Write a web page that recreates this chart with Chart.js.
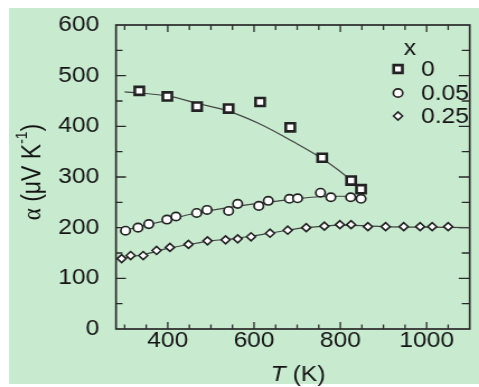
<!DOCTYPE html>
<html lang="en">
<head>
<meta charset="UTF-8" />
<title>Seebeck coefficient vs T</title>
<style>
  html, body { margin: 0; padding: 0; background: #fff; }
  .panel { position: absolute; left: 9px; top: 8px; width: 470px; height: 376px; background: #c8ebd0; }
  .stretch { position: absolute; left: 0; top: 0; width: 428px; height: 387px; transform: scaleX(1.1192); transform-origin: 0 0; }
</style>
</head>
<body>
<div class="panel"></div>
<div class="stretch"><canvas id="seebeck" width="428" height="387"></canvas></div>
<script src="https://cdn.jsdelivr.net/npm/chart.js"></script>
<script>
// measured points, x = 0
const T_X0 = [334, 399, 468, 541, 614, 684, 758, 825, 848];
const A_X0 = [470, 459, 439, 435, 448, 398, 338, 293, 276];
// x = 0.05
const T_X05 = [302, 331, 356, 398, 419, 467, 491, 541, 562, 611, 633, 682, 701, 754, 778, 824, 848];
const A_X05 = [194, 200, 207, 216, 222, 229, 235, 233, 247, 243, 253, 257, 258, 269, 260, 260, 257];
// x = 0.25
const T_X25 = [293, 314, 343, 374, 405, 448, 492, 534, 562, 593, 637, 678, 721, 763, 799, 825, 864, 905, 947, 985, 1013, 1050];
const A_X25 = [139, 145, 145, 155, 161, 167, 174, 176, 178, 182, 189, 195, 200, 203, 206, 206, 202, 202, 202, 202, 202, 202];

// guide curves
const FIT_T_X0 = [300, 400, 470, 540, 610, 690, 760, 825, 850];
const FIT_A_X0 = [468, 460, 445, 430, 406, 370, 335, 293, 270];
const FIT_T_X05 = [290, 350, 400, 450, 500, 550, 600, 650, 700, 750, 800, 850];
const FIT_A_X05 = [193, 205, 215, 226, 234, 241, 247, 252, 257, 261, 262, 261];
const FIT_T_X25 = [285, 350, 400, 450, 500, 550, 600, 650, 700, 750, 800, 850, 900, 1000, 1100];
const FIT_A_X25 = [138, 148, 159, 167, 174, 178, 184, 191, 198, 202, 205, 204, 202, 201, 200];

const X_TICKS = [400, 600, 800, 1000];
const Y_TICKS = [0, 100, 200, 300, 400, 500, 600];
const LEGEND_LABELS = ["0", "0.05", "0.25"];

const S = 479 / 428; // horizontal stretch of the original figure
const FONT = "'Liberation Sans', Arial, Helvetica, sans-serif";
const INK = "#141414";

const pts = (xs, ys) => xs.map((v, i) => ({ x: v, y: ys[i] }));

const markerBase = {
  showLine: false,
  borderColor: "#222",
  backgroundColor: "#fff",
};

function drawMarker(ctx, style, x, y) {
  ctx.save();
  ctx.fillStyle = "#fff";
  ctx.strokeStyle = "#222";
  ctx.beginPath();
  if (style === "rect") {
    ctx.lineWidth = 2.6;
    const h = 5.5 * Math.SQRT1_2;
    ctx.rect(x - h, y - h, 2 * h, 2 * h);
  } else if (style === "circle") {
    ctx.lineWidth = 1.7;
    ctx.arc(x, y, 4.2, 0, Math.PI * 2);
  } else {
    ctx.lineWidth = 1.6;
    const r = 4;
    ctx.moveTo(x - r, y);
    ctx.lineTo(x, y - r);
    ctx.lineTo(x + r, y);
    ctx.lineTo(x, y + r);
    ctx.closePath();
  }
  ctx.fill();
  ctx.stroke();
  ctx.restore();
}

const frame = {
  id: "frame",
  beforeDatasetsDraw(chart) {
    const ctx = chart.ctx;
    const a = chart.chartArea;
    const xs = chart.scales.x;
    const ys = chart.scales.y;
    ctx.save();
    ctx.strokeStyle = "#2a2a2a";
    ctx.lineWidth = 1.3;
    ctx.beginPath();
    for (let v = 300; v <= 1050; v += 50) {
      const px = xs.getPixelForValue(v);
      const major = v % 200 === 0;
      ctx.moveTo(px, a.bottom);
      ctx.lineTo(px, a.bottom - (major ? 7 : 4.5));
      ctx.moveTo(px, a.top);
      ctx.lineTo(px, a.top + (major ? 7 : 5));
    }
    for (let v = 50; v < 600; v += 50) {
      const py = ys.getPixelForValue(v);
      const major = v % 100 === 0;
      ctx.moveTo(a.left, py);
      ctx.lineTo(a.left + (major ? 10 : 6.5) / S, py);
      ctx.moveTo(a.right, py);
      ctx.lineTo(a.right - (major ? 11 : 8) / S, py);
    }
    ctx.stroke();
    ctx.lineWidth = 1.7;
    ctx.strokeRect(a.left, a.top, a.right - a.left, a.bottom - a.top);
    ctx.restore();
  },
  afterDraw(chart) {
    const ctx = chart.ctx;
    ctx.save();
    ctx.fillStyle = INK;
    ctx.textBaseline = "middle";

    // legend
    ctx.font = "22px " + FONT;
    ctx.textAlign = "center";
    ctx.fillText("x", 410 / S, 49);
    ctx.textAlign = "left";
    const styles = ["rect", "circle", "rectRot"];
    const rows = [69, 93, 116];
    styles.forEach((st, i) => {
      drawMarker(ctx, st, 398 / S, rows[i]);
      ctx.fillStyle = INK;
      ctx.fillText(LEGEND_LABELS[i], 421 / S, rows[i] + 1);
    });

    // x title: italic T (K)
    const t1 = "T";
    const t2 = " (K)";
    ctx.font = "italic 22px " + FONT;
    const w1 = ctx.measureText(t1).width;
    ctx.font = "22px " + FONT;
    const w2 = ctx.measureText(t2).width;
    const sx = 298 / S - (w1 + w2) / 2;
    ctx.font = "italic 22px " + FONT;
    ctx.fillText(t1, sx, 375);
    ctx.font = "22px " + FONT;
    ctx.fillText(t2, sx + w1, 375);

    // y title: α (μV K-1), rotated
    ctx.translate(33 / S, 172);
    ctx.rotate(-Math.PI / 2);
    const parts = [
      { t: "\u03b1", f: "23px 'Liberation Serif', 'DejaVu Serif', serif", dy: 0 },
      { t: " (\u03bcV K", f: "23px " + FONT, dy: 0 },
      { t: "-1", f: "14px " + FONT, dy: -9 },
      { t: ")", f: "23px " + FONT, dy: 0 },
    ];
    let total = 0;
    parts.forEach((p) => {
      ctx.font = p.f;
      p.w = ctx.measureText(p.t).width;
      total += p.w;
    });
    let cx = -total / 2;
    parts.forEach((p) => {
      ctx.font = p.f;
      ctx.fillText(p.t, cx, p.dy);
      cx += p.w;
    });
    ctx.restore();
  },
};

new Chart(document.getElementById("seebeck"), {
  type: "scatter",
  data: {
    datasets: [
      { ...markerBase, data: pts(T_X0, A_X0), pointStyle: "rect", pointRadius: 5.7, borderWidth: 2.6 },
      { ...markerBase, data: pts(T_X05, A_X05), pointStyle: "circle", pointRadius: 4.2, borderWidth: 1.7 },
      { ...markerBase, data: pts(T_X25, A_X25), pointStyle: "rectRot", pointRadius: 4, borderWidth: 1.6 },
      { data: pts(FIT_T_X0, FIT_A_X0), showLine: true, pointRadius: 0, borderColor: "#444", borderWidth: 1.2, cubicInterpolationMode: "monotone" },
      { data: pts(FIT_T_X05, FIT_A_X05), showLine: true, pointRadius: 0, borderColor: "#444", borderWidth: 1.2, cubicInterpolationMode: "monotone" },
      { data: pts(FIT_T_X25, FIT_A_X25), showLine: true, pointRadius: 0, borderColor: "#444", borderWidth: 1.2, cubicInterpolationMode: "monotone" },
    ],
  },
  options: {
    responsive: false,
    animation: false,
    events: [],
    layout: { padding: { top: 25, right: 428 - 476 / S, left: 0, bottom: 0 } },
    scales: {
      x: {
        type: "linear",
        min: 280,
        max: 1100,
        grid: { display: false },
        border: { display: false },
        afterBuildTicks: (scale) => { scale.ticks = X_TICKS.map((v) => ({ value: v })); },
        afterFit: (scale) => { scale.height = 58; },
        ticks: { color: INK, font: { family: FONT, size: 22 }, padding: -9, maxRotation: 0, autoSkip: false, callback: (v) => String(v) },
      },
      y: {
        type: "linear",
        min: 0,
        max: 600,
        grid: { display: false },
        border: { display: false },
        afterBuildTicks: (scale) => { scale.ticks = Y_TICKS.map((v) => ({ value: v })); },
        afterFit: (scale) => { scale.width = 116 / S; },
        ticks: { color: INK, font: { family: FONT, size: 22 }, padding: 7, autoSkip: false, callback: (v) => String(v) },
      },
    },
    plugins: {
      legend: { display: false },
      tooltip: { enabled: false },
    },
  },
  plugins: [frame],
});
</script>
</body>
</html>
